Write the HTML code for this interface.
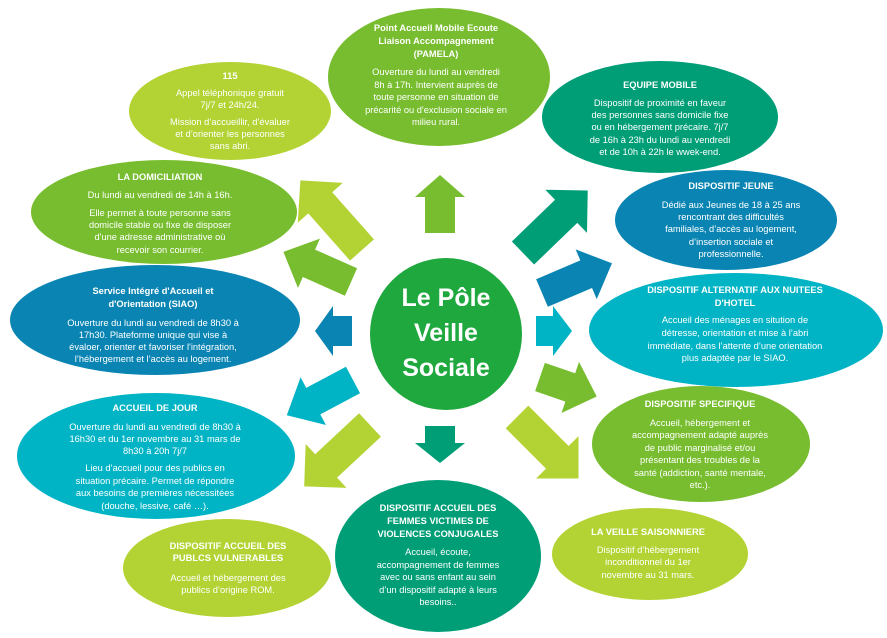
<!DOCTYPE html>
<html><head><meta charset="utf-8"><style>
html,body{margin:0;padding:0;background:#fff;}
svg{display:block;}
text{font-family:"Liberation Sans",sans-serif;font-size:9.3px;fill:#fff;text-anchor:middle;dominant-baseline:central;}
.t{font-weight:bold;}
.c{font-size:25px;font-weight:bold;}
</style></head><body>
<svg width="887" height="638" viewBox="0 0 887 638" xmlns="http://www.w3.org/2000/svg">
<!-- ellipses -->
<ellipse cx="230" cy="111" rx="101" ry="49" fill="#b3d334"/>
<ellipse cx="164" cy="212" rx="133" ry="52" fill="#78bd2f"/>
<ellipse cx="155" cy="320" rx="145" ry="55" fill="#0a85b3"/>
<ellipse cx="156" cy="456" rx="139" ry="63" fill="#00b4c5"/>
<ellipse cx="227" cy="568" rx="104" ry="49" fill="#b3d334"/>
<ellipse cx="439" cy="77" rx="111" ry="69" fill="#78bd2f"/>
<ellipse cx="660" cy="117" rx="118" ry="56" fill="#009e76"/>
<ellipse cx="726" cy="220" rx="111" ry="50" fill="#0a85b3"/>
<ellipse cx="736" cy="330" rx="147" ry="57" fill="#00b4c5"/>
<ellipse cx="701" cy="444" rx="109" ry="58" fill="#78bd2f"/>
<ellipse cx="650" cy="554" rx="98" ry="46" fill="#b3d334"/>
<ellipse cx="438" cy="556" rx="103" ry="76" fill="#009e76"/>
<circle cx="446" cy="334" r="76" fill="#1fa83d"/>
<!-- arrows -->
<g>
<polygon transform="translate(440,233) rotate(-90)" points="0,-15 36,-15 36,-25 58,0 36,25 36,15 0,15" fill="#78bd2f"/>
<polygon transform="translate(440,426) rotate(90)" points="0,-15 17,-15 17,-25 37,0 17,25 17,15 0,15" fill="#009e76"/>
<polygon transform="translate(362,250) rotate(-131.5)" points="0,-16 63,-16 63,-30 93,0 63,30 63,16 0,16" fill="#b3d334"/>
<polygon transform="translate(351,282) rotate(-156)" points="0,-15 46,-15 46,-27 74,0 46,27 46,15 0,15" fill="#78bd2f"/>
<polygon transform="translate(352,331) rotate(180)" points="0,-15 19,-15 19,-25 37,0 19,25 19,15 0,15" fill="#0a85b3"/>
<polygon transform="translate(353,380) rotate(152)" points="0,-15 45,-15 45,-27 75,0 45,27 45,15 0,15" fill="#00b4c5"/>
<polygon transform="translate(370,425) rotate(137)" points="0,-16 60,-16 60,-30 90,0 60,30 60,16 0,16" fill="#b3d334"/>
<polygon transform="translate(523,253) rotate(-44)" points="0,-16 60,-16 60,-30 90,0 60,30 60,16 0,16" fill="#009e76"/>
<polygon transform="translate(542,293) rotate(-23)" points="0,-15 48,-15 48,-27 76,0 48,27 48,15 0,15" fill="#0a85b3"/>
<polygon transform="translate(536,331) rotate(0)" points="0,-15 17,-15 17,-25 36,0 17,25 17,15 0,15" fill="#00b4c5"/>
<polygon transform="translate(540,377) rotate(19)" points="0,-15 32,-15 32,-27 60,0 32,27 32,15 0,15" fill="#78bd2f"/>
<polygon transform="translate(517,417) rotate(45)" points="0,-16 57,-16 57,-30 87,0 57,30 57,16 0,16" fill="#b3d334"/>
</g>
<!-- center -->
<text class="c" x="446" y="298">Le Pôle</text>
<text class="c" x="446" y="333">Veille</text>
<text class="c" x="446" y="368">Sociale</text>
<!-- 115 -->
<text class="t" x="230" y="76">115</text>
<text x="230" y="93">Appel téléphonique gratuit</text>
<text x="230" y="105">7j/7 et 24h/24.</text>
<text x="230" y="122">Mission d’accueillir, d’évaluer</text>
<text x="230" y="134">et d’orienter les personnes</text>
<text x="230" y="146">sans abri.</text>
<!-- domiciliation -->
<text class="t" x="160" y="177">LA DOMICILIATION</text>
<text x="160" y="195">Du lundi au vendredi  de 14h à 16h.</text>
<text x="160" y="213">Elle permet  à toute personne sans</text>
<text x="160" y="225">domicile stable ou fixe de disposer</text>
<text x="160" y="237">d'une adresse  administrative où</text>
<text x="160" y="250">recevoir son courrier.</text>
<!-- SIAO -->
<text class="t" x="153" y="291">Service Intégré d'Accueil et</text>
<text class="t" x="153" y="304">d'Orientation  (SIAO)</text>
<text x="153" y="323">Ouverture du lundi au vendredi de 8h30 à</text>
<text x="153" y="335">17h30. Plateforme unique qui vise à</text>
<text x="153" y="347">évaloer,  orienter et favoriser  l'intégration,</text>
<text x="153" y="359">l’hébergement  et  l’accès au logement.</text>
<!-- accueil de jour -->
<text class="t" x="155" y="408">ACCUEIL DE JOUR</text>
<text x="155" y="427">Ouverture du lundi au vendredi de 8h30 à</text>
<text x="155" y="439">16h30 et du 1er novembre au 31 mars de</text>
<text x="155" y="451">8h30 à 20h 7j/7</text>
<text x="155" y="468">Lieu d’accueil pour des publics en</text>
<text x="155" y="481">situation précaire.  Permet  de répondre</text>
<text x="155" y="493">aux besoins de premières  nécessitées</text>
<text x="155" y="506">(douche, lessive,  café …).</text>
<!-- publics -->
<text class="t" x="228" y="546">DISPOSITIF ACCUEIL DES</text>
<text class="t" x="228" y="558">PUBLCS VULNERABLES</text>
<text x="228" y="578">Accueil  et hébergement   des</text>
<text x="228" y="590">publics d’origine ROM.</text>
<!-- PAMELA -->
<text class="t" x="436" y="28">Point  Accueil Mobile  Ecoute</text>
<text class="t" x="436" y="41">Liaison Accompagnement</text>
<text class="t" x="436" y="54">(PAMELA)</text>
<text x="436" y="72">Ouverture du lundi au vendredi</text>
<text x="436" y="85">8h à 17h. Intervient auprès  de</text>
<text x="436" y="97">toute personne en situation de</text>
<text x="436" y="110">précarité ou d'exclusion sociale en</text>
<text x="436" y="122">milieu rural.</text>
<!-- equipe mobile -->
<text class="t" x="660" y="85">EQUIPE MOBILE</text>
<text x="660" y="103">Dispositif de proximité en faveur</text>
<text x="660" y="115">des personnes sans domicile fixe</text>
<text x="660" y="127">ou en hébergement  précaire.  7j/7</text>
<text x="660" y="140">de 16h à 23h du lundi au vendredi</text>
<text x="660" y="152">et de 10h à 22h le wwek-end.</text>
<!-- jeune -->
<text class="t" x="731" y="186">DISPOSITIF JEUNE</text>
<text x="731" y="205">Dédié aux Jeunes de 18 à 25 ans</text>
<text x="731" y="217">rencontrant des difficultés</text>
<text x="731" y="229">familiales, d’accès au logement,</text>
<text x="731" y="242">d’insertion sociale et</text>
<text x="731" y="254">professionnelle.</text>
<!-- alternatif -->
<text class="t" x="735" y="290">DISPOSITIF ALTERNATIF AUX NUITEES</text>
<text class="t" x="735" y="303">D'HOTEL</text>
<text x="735" y="320">Accueil des ménages  en sitution de</text>
<text x="735" y="333">détresse,  orientation et mise à l’abri</text>
<text x="735" y="346">immédiate, dans  l’attente d’une orientation</text>
<text x="735" y="358">plus adaptée par le SIAO.</text>
<!-- specifique -->
<text class="t" x="700" y="404">DISPOSITIF SPECIFIQUE</text>
<text x="700" y="423">Accueil,  hébergement  et</text>
<text x="700" y="435">accompagnement  adapté auprès</text>
<text x="700" y="448">de public marginalisé et/ou</text>
<text x="700" y="460">présentant  des troubles de la</text>
<text x="700" y="473">santé (addiction, santé  mentale,</text>
<text x="700" y="485">etc.).</text>
<!-- veille -->
<text class="t" x="648" y="532">LA VEILLE SAISONNIERE</text>
<text x="648" y="550">Dispositif d’hébergement</text>
<text x="648" y="562">inconditionnel du 1er</text>
<text x="648" y="575">novembre au 31 mars.</text>
<!-- femmes -->
<text class="t" x="438" y="508">DISPOSITIF ACCUEIL DES</text>
<text class="t" x="438" y="521">FEMMES VICTIMES  DE</text>
<text class="t" x="438" y="534">VIOLENCES CONJUGALES</text>
<text x="438" y="552">Accueil, écoute,</text>
<text x="438" y="565">accompagnement  de femmes</text>
<text x="438" y="577">avec  ou sans  enfant  au sein</text>
<text x="438" y="590">d’un dispositif adapté à leurs</text>
<text x="438" y="602">besoins..</text>
</svg>
</body></html>
